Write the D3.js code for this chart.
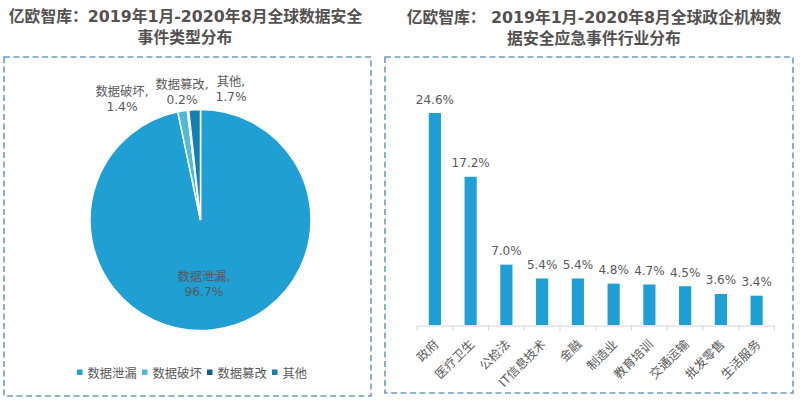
<!DOCTYPE html>
<html>
<head>
<meta charset="utf-8">
<script src="https://cdn.jsdelivr.net/npm/d3@7"></script>
<style>
  html, body { margin: 0; padding: 0; background: #fff; }
  svg { display: block; }
  text { font-family: "DejaVu Sans", "Noto Sans CJK SC", sans-serif; }
</style>
</head>
<body>
<svg id="chart" width="800" height="402"></svg>
<script>
const pieCategories = ["数据泄漏", "数据破坏", "数据篡改", "其他"];
const pieValues = [96.7, 1.4, 0.2, 1.7];
const pieColors = ["#1f9fd3", "#4fb9d6", "#0f5f93", "#137fb4"];

const barCategories = ["政府", "医疗卫生", "公检法", "IT信息技术", "金融", "制造业", "教育培训", "交通运输", "批发零售", "生活服务"];
const barValues = [24.6, 17.2, 7.0, 5.4, 5.4, 4.8, 4.7, 4.5, 3.6, 3.4];

const svg = d3.select("#chart");
const textColor = "#595959";
const titleColor = "#555050";

// titles
function title(x, y, str) {
  svg.append("text").attr("x", x).attr("y", y)
    .attr("text-anchor", "middle")
    .attr("font-size", 15.8).attr("font-weight", "bold")
    .attr("fill", titleColor).text(str);
}
title(185.5, 22, "亿欧智库：2019年1月-2020年8月全球数据安全");
title(185, 43, "事件类型分布");
title(594, 23, "亿欧智库： 2019年1月-2020年8月全球政企机构数");
title(594, 44, "据安全应急事件行业分布");

// dashed frames
function frame(x, y, w, h) {
  svg.append("rect").attr("x", x).attr("y", y).attr("width", w).attr("height", h)
    .attr("fill", "none").attr("stroke", "#6a9fbf").attr("stroke-width", 1.6)
    .attr("stroke-dasharray", "6 3.5");
}
frame(4, 57, 367, 339);
frame(385, 57, 408, 336);

// pie
const pie = d3.pie().sort(null).value(d => d);
const arc = d3.arc().innerRadius(0).outerRadius(110.5);
const pieG = svg.append("g").attr("transform", "translate(200.5,220)");
pieG.selectAll("path")
  .data(pie(pieValues))
  .join("path")
  .attr("d", arc)
  .attr("fill", (d, i) => pieColors[i])
  .attr("stroke", "#fff")
  .attr("stroke-width", 1.5);

function pieLabel(x, y, name, val) {
  const t = svg.append("text").attr("text-anchor", "middle")
    .attr("font-size", 12.3).attr("fill", textColor);
  t.append("tspan").attr("x", x).attr("y", y).text(name + ",");
  t.append("tspan").attr("x", x).attr("y", y + 15).text(val.toFixed(1) + "%");
}
pieLabel(204, 281, pieCategories[0], pieValues[0]);
pieLabel(122, 96, pieCategories[1], pieValues[1]);
pieLabel(182, 89, pieCategories[2], pieValues[2]);
pieLabel(231, 86, pieCategories[3], pieValues[3]);

// legend
const legendX = [77, 142, 207, 272];
pieCategories.forEach((c, i) => {
  svg.append("rect").attr("x", legendX[i]).attr("y", 369.5).attr("width", 5.5).attr("height", 5.5)
    .attr("fill", pieColors[i]);
  svg.append("text").attr("x", legendX[i] + 10.5).attr("y", 377.5)
    .attr("font-size", 12.3).attr("fill", textColor).text(c);
});

// bars
const x = d3.scaleBand().domain(barCategories).range([417, 774.5]).paddingInner(0.66).paddingOuter(0.33);
const y = d3.scaleLinear().domain([0, 24.6]).range([325, 113]);

svg.append("g").selectAll("rect")
  .data(barValues)
  .join("rect")
  .attr("x", (d, i) => x(barCategories[i]))
  .attr("y", d => y(d))
  .attr("width", x.bandwidth())
  .attr("height", d => y(0) - y(d))
  .attr("fill", "#1f9fd3");

svg.append("g").selectAll("text")
  .data(barValues)
  .join("text")
  .attr("x", (d, i) => x(barCategories[i]) + x.bandwidth() / 2)
  .attr("y", d => y(d) - 9.5)
  .attr("text-anchor", "middle")
  .attr("font-size", 12).attr("fill", textColor)
  .text(d => d.toFixed(1) + "%");

// axis
const band = d3.scaleBand().domain(barCategories).range([417, 774.5]);
const axis = svg.append("g").attr("transform", "translate(0,325.5)")
  .call(d3.axisBottom(band).tickSize(0).tickFormat(""));
axis.select(".domain").attr("stroke", "#d4d4d4").attr("stroke-width", 1.2);
const tickPos = band.domain().map(d => band(d)).concat([774.5]);
axis.selectAll("line.sep").data(tickPos).join("line").attr("class", "sep")
  .attr("x1", d => d).attr("x2", d => d).attr("y1", 0).attr("y2", 5)
  .attr("stroke", "#d4d4d4");

svg.append("g").selectAll("text")
  .data(barCategories)
  .join("text")
  .attr("transform", d => `translate(${band(d) + band.bandwidth() / 2 + 4.5},345) rotate(-45)`)
  .attr("text-anchor", "end")
  .attr("font-size", 12.3).attr("fill", textColor)
  .text(d => d);
</script>
</body>
</html>
